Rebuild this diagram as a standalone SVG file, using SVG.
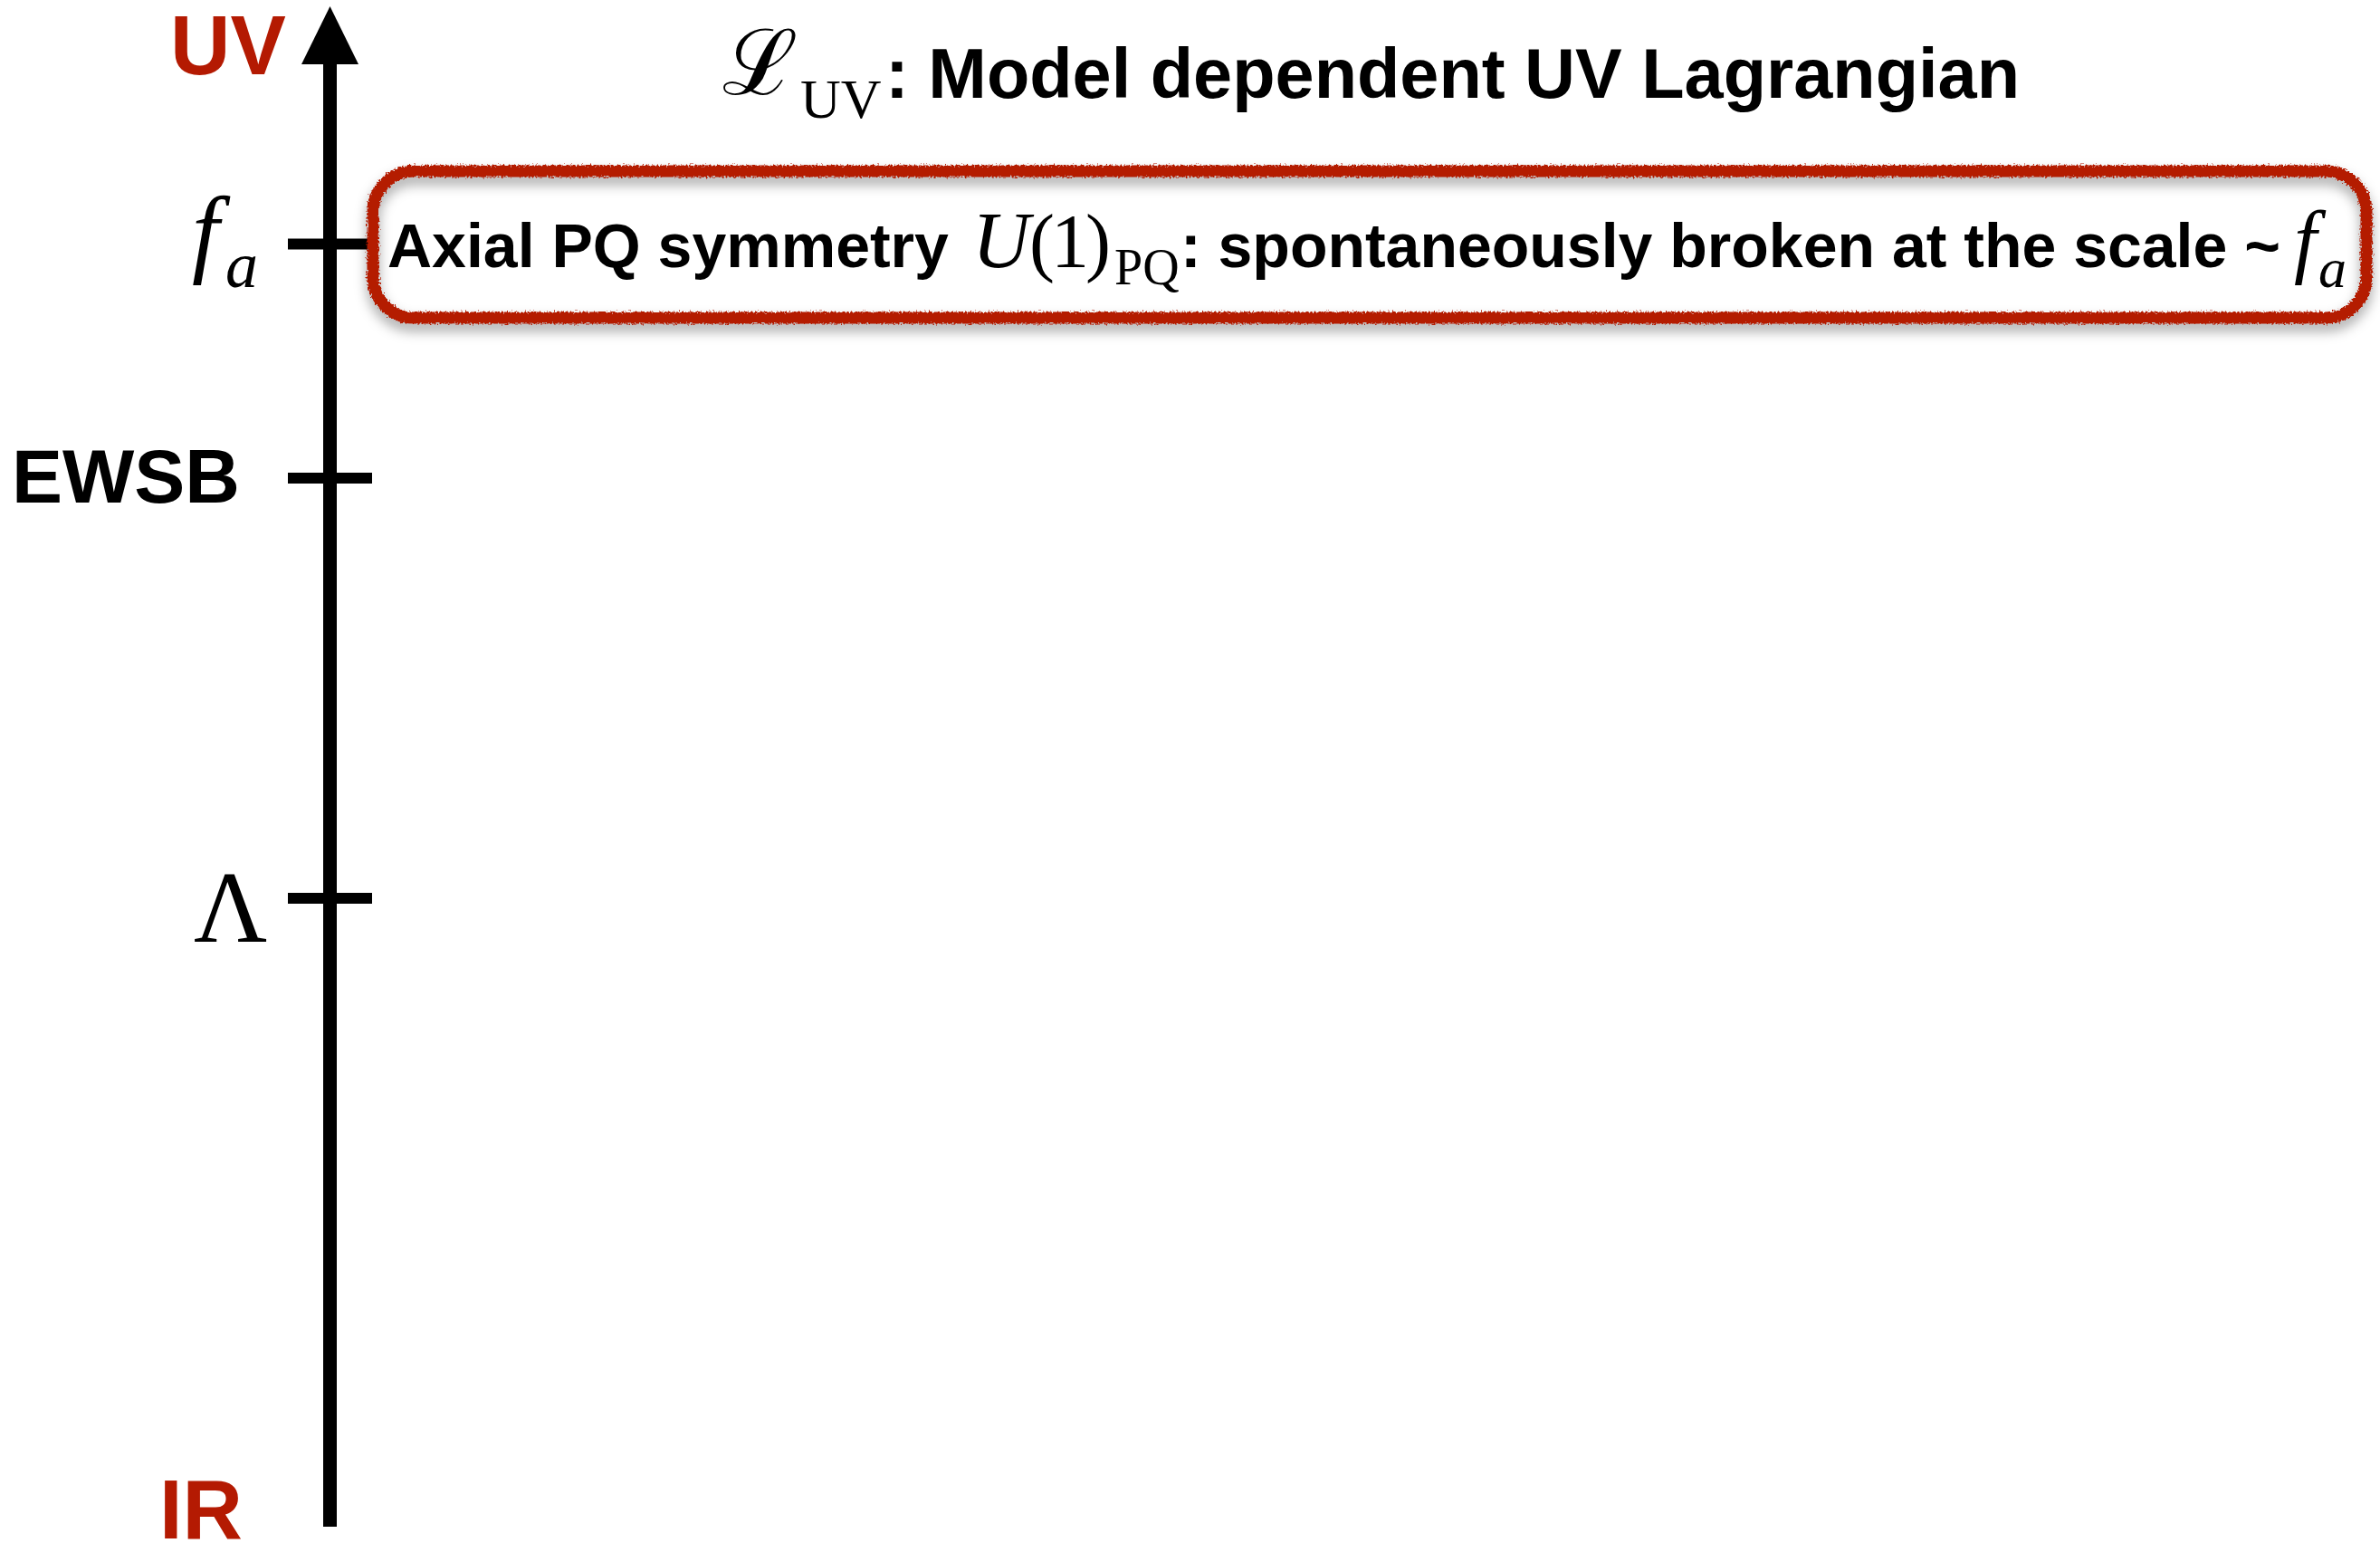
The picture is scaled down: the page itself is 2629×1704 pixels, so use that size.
<svg xmlns="http://www.w3.org/2000/svg" width="2629" height="1704" viewBox="0 0 2629 1704">
  <style>
    .sans { font-family: "Liberation Sans", Arial, sans-serif; font-weight: bold; fill: #000; }
    .red { fill: #b41a02; }
    .mi { font-family: "Liberation Serif", "Times New Roman", serif; font-style: italic; fill: #000; }
    .rm { font-family: "Liberation Serif", "Times New Roman", serif; fill: #000; }
    .tick { stroke: #000; stroke-width: 12; }
  </style>
  <defs>
    <!-- rough, pencil-like edge for the highlighted box -->
    <filter id="rough" x="-5%" y="-40%" width="110%" height="180%">
      <feTurbulence type="fractalNoise" baseFrequency="0.5" numOctaves="3" seed="3" result="noise"/>
      <feDisplacementMap in="SourceGraphic" in2="noise" scale="7" xChannelSelector="R" yChannelSelector="G"/>
    </filter>
    <filter id="shadow" x="-5%" y="-40%" width="110%" height="180%">
      <feGaussianBlur stdDeviation="7"/>
    </filter>
  </defs>
  <rect width="2629" height="1704" fill="#fff"/>

  <!-- energy-scale axis -->
  <g id="axis">
    <line x1="364.5" y1="68" x2="364.5" y2="1686" stroke="#000" stroke-width="15"/>
    <polygon points="364.5,7 396,71 333,71" fill="#000"/>
    <line class="tick" x1="318" y1="269.5" x2="411" y2="269.5"/>
    <line class="tick" x1="318" y1="528" x2="411" y2="528"/>
    <line class="tick" x1="318" y1="992" x2="411" y2="992"/>
  </g>

  <!-- axis labels -->
  <g id="label-uv"><text class="sans red" x="188" y="82" font-size="92">UV</text></g>
  <g id="label-ir"><text class="sans red" x="176" y="1699" font-size="92">IR</text></g>
  <g id="label-fa">
    <text class="mi" x="212" y="292" font-size="108">f</text>
    <text class="mi" x="249" y="317" font-size="72">a</text>
  </g>
  <g id="label-ewsb"><text class="sans" x="13" y="555" font-size="84">EWSB</text></g>
  <g id="label-lambda"><text class="rm" x="214" y="1040" font-size="112">Λ</text></g>

  <!-- title -->
  <g id="title">
    <text class="rm" x="798" y="104" font-size="100" font-family="DejaVu Serif, serif">ℒ</text>
    <text class="rm" x="884" y="130" font-size="62">UV</text>
    <text class="sans" x="978" y="108" font-size="77.5">: Model dependent UV Lagrangian</text>
  </g>

  <!-- PQ symmetry box -->
  <g id="pq-box">
    <rect x="412" y="197" width="2202" height="162" rx="45" fill="none" stroke="#000" stroke-opacity="0.35" stroke-width="13" filter="url(#shadow)"/>
    <rect x="412" y="189" width="2202" height="162" rx="45" fill="none" stroke="#b41a02" stroke-width="13" filter="url(#rough)"/>
    <text class="sans" x="428" y="295" font-size="68">Axial PQ symmetry</text>
    <text class="mi" x="1074" y="295" font-size="88">U</text>
    <text class="rm" x="1137" y="295" font-size="84" letter-spacing="-4">(1)</text>
    <text class="rm" x="1231" y="314" font-size="56">PQ</text>
    <text class="sans" x="1304" y="295" font-size="68">: spontaneously broken at the scale ~</text>
    <text class="mi" x="2534" y="296" font-size="90">f</text>
    <text class="mi" x="2561" y="317" font-size="62">a</text>
  </g>
</svg>
